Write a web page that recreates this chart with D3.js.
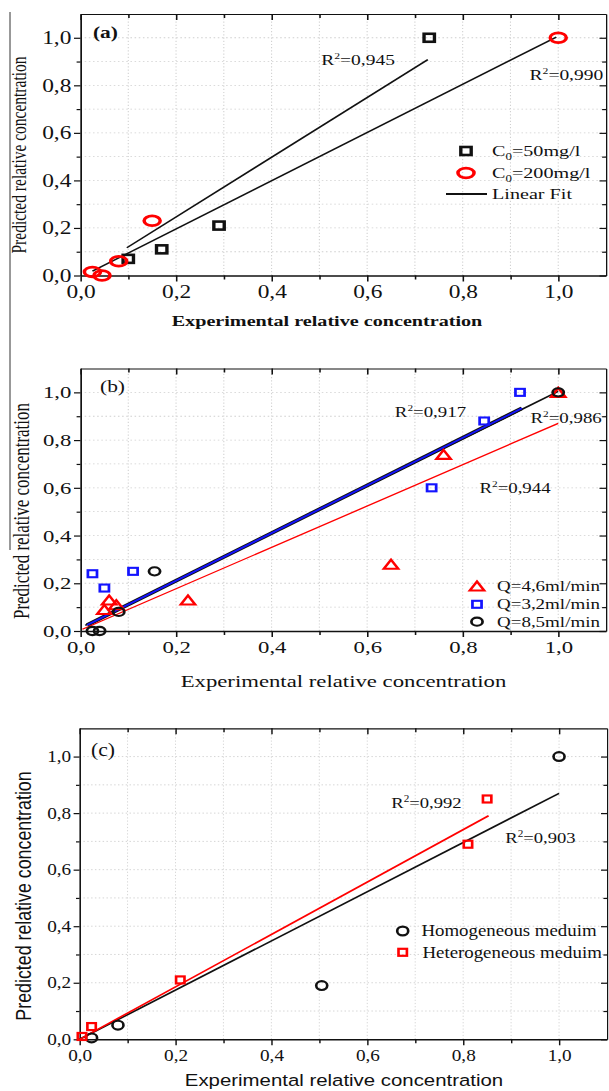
<!DOCTYPE html>
<html>
<head>
<meta charset="utf-8">
<script src="https://cdn.jsdelivr.net/npm/d3@7"></script>
<style>body{margin:0;background:#fff}</style>
</head>
<body>
<script>
// shared axis values
const tickValues = [0, 0.2, 0.4, 0.6, 0.8, 1.0];
const tickLabels = ["0,0", "0,2", "0,4", "0,6", "0,8", "1,0"];
const minorValues = [0.1, 0.3, 0.5, 0.7, 0.9];
const gridValues = [0.1, 0.2, 0.3, 0.4, 0.5, 0.6, 0.7, 0.8, 0.9, 1.0];

// panel (a)
const aSquares = [[0.73, 1.0], [0.29, 0.21], [0.17, 0.11], [0.10, 0.07]];
const aCircles = [[1.0, 1.0], [0.15, 0.23], [0.08, 0.06], [0.025, 0.015], [0.045, 0.0]];
const aFits = [
    {x0: 0.097, x1: 0.727, slope: 1.256, icpt: -0.005},
    {x0: 0.025, x1: 0.996, slope: 1.014, icpt: -0.007}
];
const aR2 = ["0,945", "0,990"];
const aLegend = ["50mg/l", "200mg/l", "Linear Fit"];

// panel (b)
const bTriangles = [[1.0, 1.0], [0.76, 0.74], [0.65, 0.28], [0.225, 0.13], [0.06, 0.13], [0.075, 0.11], [0.05, 0.09]];
const bSquares = [[0.92, 1.0], [0.845, 0.88], [0.735, 0.60], [0.11, 0.25], [0.025, 0.24], [0.05, 0.18]];
const bCircles = [[1.0, 1.0], [0.155, 0.25], [0.08, 0.08], [0.025, 0.0], [0.04, 0.0]];
const bFitBlack = {x0: 0.01, x1: 1.0, slope: 0.99, icpt: 0.014};
const bFitBlue = {x0: 0.014, x1: 0.924, slope: 0.998, icpt: 0.011};
const bFitRed = {x0: 0.004, x1: 1.0, slope: 0.866, icpt: 0.004};
const bR2 = ["0,917", "0,986", "0,944"];
const bLegend = ["Q=4,6ml/min", "Q=3,2ml/min", "Q=8,5ml/min"];

// panel (c)
const cCircles = [[1.0, 1.0], [0.505, 0.19], [0.08, 0.05], [0.025, 0.005]];
const cSquares = [[0.85, 0.85], [0.81, 0.69], [0.21, 0.21], [0.025, 0.045], [0.005, 0.01]];
const cFitBlack = {x0: 0.0, x1: 1.0, slope: 0.87, icpt: 0.0};
const cFitRed = {x0: 0.0, x1: 0.853, slope: 0.927, icpt: 0.0};
const cR2 = ["0,992", "0,903"];
const cLegend = ["Homogeneous meduim", "Heterogeneous meduim"];

const serif = "'Liberation Serif', 'Times New Roman', serif";
const sans = "'Liberation Sans', Arial, sans-serif";
const RED = "#ff0000", BLUE = "#1414ff";

const svg = d3.select("body").append("svg")
    .attr("width", 609)
    .attr("height", 1091);

// stray border line on the left of the original figure
svg.append("line").attr("x1", 10).attr("x2", 10).attr("y1", 12).attr("y2", 550)
    .attr("stroke", "#333").attr("stroke-width", 1);

function makePanel(p) {
    const g = svg.append("g").attr("transform", `scale(${p.sx},1)`);
    const x = d3.scaleLinear().domain([0, 1.1]).range([p.left / p.sx, p.right / p.sx]);
    const y = d3.scaleLinear().domain([0, 1.1]).range([p.bottom, p.top]);

    // dotted grid
    g.append("g").selectAll("line").data(gridValues).join("line")
        .attr("x1", d => x(d)).attr("x2", d => x(d)).attr("y1", y(0)).attr("y2", y(1.1))
        .attr("stroke", "#cfcfcf").attr("stroke-width", 0.8).attr("stroke-dasharray", "1.2,2");
    g.append("g").selectAll("line").data(gridValues).join("line")
        .attr("y1", d => y(d)).attr("y2", d => y(d)).attr("x1", x(0)).attr("x2", x(1.1))
        .attr("stroke", "#cfcfcf").attr("stroke-width", 0.8).attr("stroke-dasharray", "1.2,2");

    const fmt = d => tickLabels[tickValues.indexOf(d)];
    const style = (sel, w) => {
        sel.selectAll(".domain").attr("stroke", "#111").attr("stroke-width", w);
        sel.selectAll(".tick line").attr("stroke", "#111").attr("stroke-width", 1.2);
        sel.attr("font-family", serif).attr("font-size", p.tickSize);
        sel.selectAll("text").attr("fill", "#111");
    };

    g.append("g").attr("transform", `translate(0,${p.bottom})`)
        .call(d3.axisBottom(x).tickValues(tickValues).tickFormat(fmt).tickSizeInner(6).tickSizeOuter(0).tickPadding(p.padX))
        .call(s => style(s, 1.6));
    g.append("g").attr("transform", `translate(0,${p.bottom})`)
        .call(d3.axisBottom(x).tickValues(minorValues).tickFormat("").tickSizeInner(4).tickSizeOuter(0))
        .call(s => style(s, 0));
    g.append("g").attr("transform", `translate(0,${p.top})`)
        .call(d3.axisTop(x).tickValues(tickValues).tickFormat("").tickSizeInner(-6).tickSizeOuter(0))
        .call(s => style(s, 1.2));
    g.append("g").attr("transform", `translate(0,${p.top})`)
        .call(d3.axisTop(x).tickValues(minorValues).tickFormat("").tickSizeInner(-4).tickSizeOuter(0))
        .call(s => style(s, 0));
    g.append("g").attr("transform", `translate(${p.left / p.sx},0)`)
        .call(d3.axisLeft(y).tickValues(tickValues).tickFormat(fmt).tickSizeInner(5).tickSizeOuter(0).tickPadding(p.padY))
        .call(s => style(s, 1.3));
    g.append("g").attr("transform", `translate(${p.left / p.sx},0)`)
        .call(d3.axisLeft(y).tickValues(minorValues).tickFormat("").tickSizeInner(3).tickSizeOuter(0))
        .call(s => style(s, 0));
    g.append("g").attr("transform", `translate(${p.right / p.sx},0)`)
        .call(d3.axisRight(y).tickValues(tickValues).tickFormat("").tickSizeInner(-5).tickSizeOuter(0))
        .call(s => style(s, 1.0));
    g.append("g").attr("transform", `translate(${p.right / p.sx},0)`)
        .call(d3.axisRight(y).tickValues(minorValues).tickFormat("").tickSizeInner(-3).tickSizeOuter(0))
        .call(s => style(s, 0));

    // titles
    g.append("text").attr("x", p.xTitleX / p.sx).attr("y", p.xTitleY)
        .attr("text-anchor", "middle").attr("font-family", p.titleFont)
        .attr("font-size", p.xTitleSize).attr("font-weight", p.xTitleWeight).attr("fill", "#111")
        .text("Experimental relative concentration");
    g.append("text").attr("transform", `translate(${p.yTitleX / p.sx},${p.yTitleY}) rotate(-90)`)
        .attr("text-anchor", "middle").attr("dy", "0.35em").attr("font-family", p.titleFont)
        .attr("font-size", p.yTitleSize).attr("fill", "#111")
        .text("Predicted relative concentration");
    g.append("text").attr("x", p.labelX / p.sx).attr("y", p.labelY)
        .attr("font-family", serif).attr("font-size", p.labelSize).attr("font-weight", p.labelWeight)
        .attr("fill", "#111").text(p.label);

    return {g, x, y, sx: p.sx};
}

function fitLine(P, f, color, width) {
    const pts = [f.x0, f.x1].map(v => [P.x(v), P.y(f.slope * v + f.icpt)]);
    P.g.append("path").attr("d", d3.line()(pts))
        .attr("fill", "none").attr("stroke", color).attr("stroke-width", width);
}

function squares(P, data, side, color, sw) {
    P.g.append("g").selectAll("rect").data(data).join("rect")
        .attr("x", d => P.x(d[0]) - side / 2).attr("y", d => P.y(d[1]) - side / 2)
        .attr("width", side).attr("height", side)
        .attr("fill", "none").attr("stroke", color).attr("stroke-width", sw);
}

function circles(P, data, rx, ry, color, sw) {
    P.g.append("g").selectAll("ellipse").data(data).join("ellipse")
        .attr("cx", d => P.x(d[0])).attr("cy", d => P.y(d[1]))
        .attr("rx", rx).attr("ry", ry)
        .attr("fill", "none").attr("stroke", color).attr("stroke-width", sw);
}

function triPath(cx, cy, w, h) {
    return `M${cx - w / 2},${cy + h / 2}L${cx + w / 2},${cy + h / 2}L${cx},${cy - h / 2}Z`;
}

function triangles(P, data, w, h, color, sw) {
    P.g.append("g").selectAll("path").data(data).join("path")
        .attr("d", d => triPath(P.x(d[0]), P.y(d[1]), w, h))
        .attr("fill", "none").attr("stroke", color).attr("stroke-width", sw).attr("stroke-linejoin", "miter");
}

function r2Text(P, xv, yv, value, size) {
    const t = P.g.append("text").attr("x", P.x(xv)).attr("y", P.y(yv))
        .attr("font-family", serif).attr("font-size", size).attr("fill", "#111");
    t.append("tspan").text("R");
    t.append("tspan").attr("font-size", size * 0.6).attr("dy", -size * 0.4).text("2");
    t.append("tspan").attr("dy", size * 0.4).text("=" + value);
}

function legendText(P, xr, yr, size, font) {
    return P.g.append("text").attr("x", xr / P.sx).attr("y", yr)
        .attr("font-family", font).attr("font-size", size).attr("fill", "#111");
}

// ---------- panel (a)
const A = makePanel({
    sx: 1.3, left: 80.5, right: 606, top: 14, bottom: 275.5,
    tickSize: 18, padX: 4, padY: 2,
    titleFont: serif, xTitleX: 327, xTitleY: 326, xTitleSize: 15.5, xTitleWeight: "bold",
    yTitleX: 19, yTitleY: 155, yTitleSize: 15.5,
    label: "(a)", labelX: 93, labelY: 38, labelSize: 16.5, labelWeight: "bold"
});
aFits.forEach(f => fitLine(A, f, "#111", 1.4));
squares(A, aSquares, 8, "#111", 2.6);
circles(A, aCircles, 6.2, 4.9, RED, 2.7);
r2Text(A, 0.504, 0.885, aR2[0], 15);
r2Text(A, 0.94, 0.822, aR2[1], 15);

A.g.append("rect").attr("x", 466 / A.sx - 4).attr("y", 151 - 4).attr("width", 8).attr("height", 8)
    .attr("fill", "none").attr("stroke", "#111").attr("stroke-width", 2.6);
A.g.append("ellipse").attr("cx", 466 / A.sx).attr("cy", 173).attr("rx", 6.2).attr("ry", 4.9)
    .attr("fill", "none").attr("stroke", RED).attr("stroke-width", 2.7);
A.g.append("line").attr("x1", 446 / A.sx).attr("x2", 487 / A.sx).attr("y1", 194).attr("y2", 194)
    .attr("stroke", "#111").attr("stroke-width", 1.8);
[0, 1].forEach(i => {
    const t = legendText(A, 492, 156 + i * 22, 15.5, serif);
    t.append("tspan").text("C");
    t.append("tspan").attr("font-size", 10).attr("dy", 4).text("0");
    t.append("tspan").attr("dy", -4).text("=" + aLegend[i]);
});
legendText(A, 492, 199, 15.5, serif).text(aLegend[2]);

// ---------- panel (b)
const B = makePanel({
    sx: 1.3, left: 80.5, right: 606, top: 368.5, bottom: 631,
    tickSize: 17.5, padX: 4, padY: 2,
    titleFont: serif, xTitleX: 343.5, xTitleY: 687, xTitleSize: 17.5, xTitleWeight: "normal",
    yTitleX: 21, yTitleY: 511, yTitleSize: 17,
    label: "(b)", labelX: 100, labelY: 392, labelSize: 16.5, labelWeight: "normal"
});
fitLine(B, bFitBlack, "#111", 1.5);
fitLine(B, bFitBlue, "#111", 3.6);
fitLine(B, bFitBlue, BLUE, 1.8);
fitLine(B, bFitRed, RED, 1.3);
triangles(B, bTriangles, 11, 9, RED, 2.1);
squares(B, bSquares, 7, BLUE, 2.1);
circles(B, bCircles, 4.3, 4.1, "#111", 2.1);
r2Text(B, 0.658, 0.897, bR2[0], 14.5);
r2Text(B, 0.942, 0.871, bR2[1], 14.5);
r2Text(B, 0.835, 0.578, bR2[2], 14.5);

B.g.append("path").attr("d", triPath(477 / B.sx, 586, 11, 9))
    .attr("fill", "none").attr("stroke", RED).attr("stroke-width", 2.1);
B.g.append("rect").attr("x", 477 / B.sx - 3.5).attr("y", 604.3 - 3.5).attr("width", 7).attr("height", 7)
    .attr("fill", "none").attr("stroke", BLUE).attr("stroke-width", 2.1);
B.g.append("ellipse").attr("cx", 477 / B.sx).attr("cy", 621.7).attr("rx", 4.3).attr("ry", 4.1)
    .attr("fill", "none").attr("stroke", "#111").attr("stroke-width", 2.1);
bLegend.forEach((s, i) => legendText(B, 497, 591 + i * 17.9, 14.6, serif).text(s));

// ---------- panel (c)
const C = makePanel({
    sx: 1.2, left: 79.6, right: 607, top: 728.3, bottom: 1039.3,
    tickSize: 16, padX: 4, padY: 2,
    titleFont: sans, xTitleX: 344, xTitleY: 1086, xTitleSize: 17, xTitleWeight: "normal",
    yTitleX: 24, yTitleY: 896, yTitleSize: 17.8,
    label: "(c)", labelX: 91, labelY: 756, labelSize: 18, labelWeight: "normal"
});
fitLine(C, cFitBlack, "#111", 1.6);
fitLine(C, cFitRed, RED, 1.6);
circles(C, cCircles, 4.6, 4.4, "#111", 2.2);
squares(C, cSquares, 7, RED, 2.2);
r2Text(C, 0.650, 0.818, cR2[0], 15.5);
r2Text(C, 0.888, 0.694, cR2[1], 15.5);

C.g.append("ellipse").attr("cx", 402.7 / C.sx).attr("cy", 931).attr("rx", 4.6).attr("ry", 4.4)
    .attr("fill", "none").attr("stroke", "#111").attr("stroke-width", 2.2);
C.g.append("rect").attr("x", 402.7 / C.sx - 3.5).attr("y", 952.3 - 3.5).attr("width", 7).attr("height", 7)
    .attr("fill", "none").attr("stroke", RED).attr("stroke-width", 2.2);
legendText(C, 421.4, 936.5, 15.7, serif).text(cLegend[0]);
legendText(C, 422.5, 958, 15.7, serif).text(cLegend[1]);
</script>
</body>
</html>
